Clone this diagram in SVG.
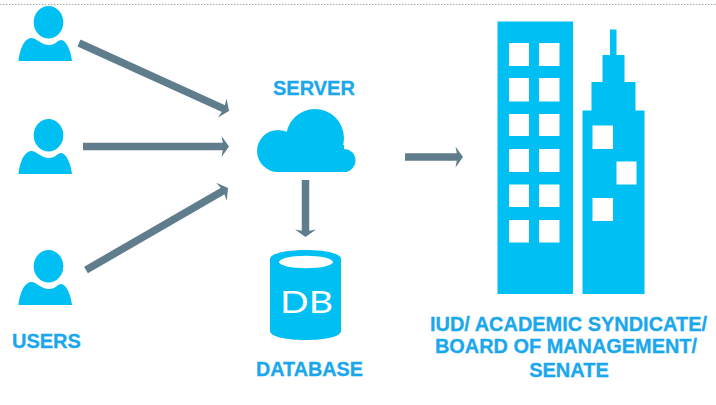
<svg xmlns="http://www.w3.org/2000/svg" width="716" height="405" viewBox="0 0 716 405">
<style>
.icon{fill:#00BFF3}
.hole{fill:#fff}
.lbl{font-family:"Liberation Sans",Arial,sans-serif;font-weight:700;font-size:20px;fill:#1AA7EC;stroke:#1AA7EC;stroke-width:.3px}
.arrow{stroke:#5F7D8C;stroke-width:7.5;fill:none;marker-end:url(#head)}
</style>
<defs>
<marker id="head" markerUnits="userSpaceOnUse" markerWidth="20" markerHeight="24" refX="8" refY="12" orient="auto" overflow="visible">
<path d="M3.500 1.500L11 12L3.500 22.500L5.500 12Z" fill="#5F7D8C"/>
</marker>
<g id="person">
<ellipse cx="48.5" cy="22.2" rx="14.8" ry="16.3"/>
<path d="M18.500 61C19.500 52 23 39 31 38C36 37.500 41 45 49 45C56 45 57 40 61.500 40C67 41 71 52 72 61Z"/>
</g>
</defs>
<rect width="716" height="405" fill="#fff"/>
<line x1="0" y1="4.500" x2="716" y2="4.500" stroke="#A8A8A8" stroke-width="1" stroke-dasharray="1.500 1.500"/>
<g id="connectors">
<line class="arrow" x1="79" y1="43" x2="226.300" y2="109.800"/>
<line class="arrow" x1="83" y1="146.500" x2="226" y2="146.500"/>
<line class="arrow" x1="86" y1="270" x2="225.400" y2="189.500"/>
<line class="arrow" x1="305.500" y1="180" x2="305.500" y2="234"/>
<line class="arrow" x1="405" y1="157" x2="460" y2="157"/>
</g>
<g id="user-1" class="icon"><use href="#person"/></g>
<g id="user-2" class="icon"><use href="#person" y="113"/></g>
<g id="user-3" class="icon"><use href="#person" y="244"/></g>
<text class="lbl" x="12" y="348">USERS</text>
<g id="server">
<text class="lbl" x="273" y="94.500">SERVER</text>
<g class="icon">
<circle cx="315" cy="138" r="29"/>
<circle cx="278" cy="151" r="21"/>
<circle cx="344" cy="160.500" r="11.500"/>
<rect x="278" y="145" width="66" height="27"/>
</g>
</g>
<g id="database">
<path class="icon" d="M270 259C270 247 341 247 341 259V331C341 343 270 343 270 331Z"/>
<ellipse class="hole" cx="306" cy="262" rx="27" ry="6.200"/>
<text x="280" y="313" font-family="Lato,'Open Sans',sans-serif" font-weight="400" font-size="31" textLength="53" lengthAdjust="spacingAndGlyphs" fill="#fff">DB</text>
<text class="lbl" x="256" y="375.500" textLength="107" lengthAdjust="spacingAndGlyphs">DATABASE</text>
</g>
<g id="buildings">
<path class="icon" d="M497.500 21.500H573V294H497.500Z"/>
<path class="icon" d="M610 29.500H616.500V55H624.500V82H635.500V110.500H644.500V294H582.500V110.500H591.500V82H602.500V55H610Z"/>
<g class="hole">
<rect x="509" y="43" width="20" height="23"/><rect x="539" y="43" width="20.500" height="23"/>
<rect x="509" y="78" width="20" height="23.500"/><rect x="539" y="78" width="20.500" height="23.500"/>
<rect x="509" y="114" width="20" height="22"/><rect x="539" y="114" width="20.500" height="22"/>
<rect x="509" y="149" width="20" height="23"/><rect x="539" y="149" width="20.500" height="23"/>
<rect x="509" y="184.500" width="20" height="22.500"/><rect x="539" y="184.500" width="20.500" height="22.500"/>
<rect x="509" y="220" width="20" height="22.500"/><rect x="539" y="220" width="20.500" height="22.500"/>
<rect x="592.500" y="125.500" width="20.500" height="23.500"/>
<rect x="616.500" y="161.500" width="20" height="23"/>
<rect x="592.500" y="198" width="20.500" height="23"/>
</g>
<text class="lbl" x="430" y="330.700" textLength="277" lengthAdjust="spacingAndGlyphs">IUD/ ACADEMIC SYNDICATE/</text>
<text class="lbl" x="435" y="353" textLength="262" lengthAdjust="spacingAndGlyphs">BOARD OF MANAGEMENT/</text>
<text class="lbl" x="569" y="377" text-anchor="middle">SENATE</text>
</g>
</svg>
